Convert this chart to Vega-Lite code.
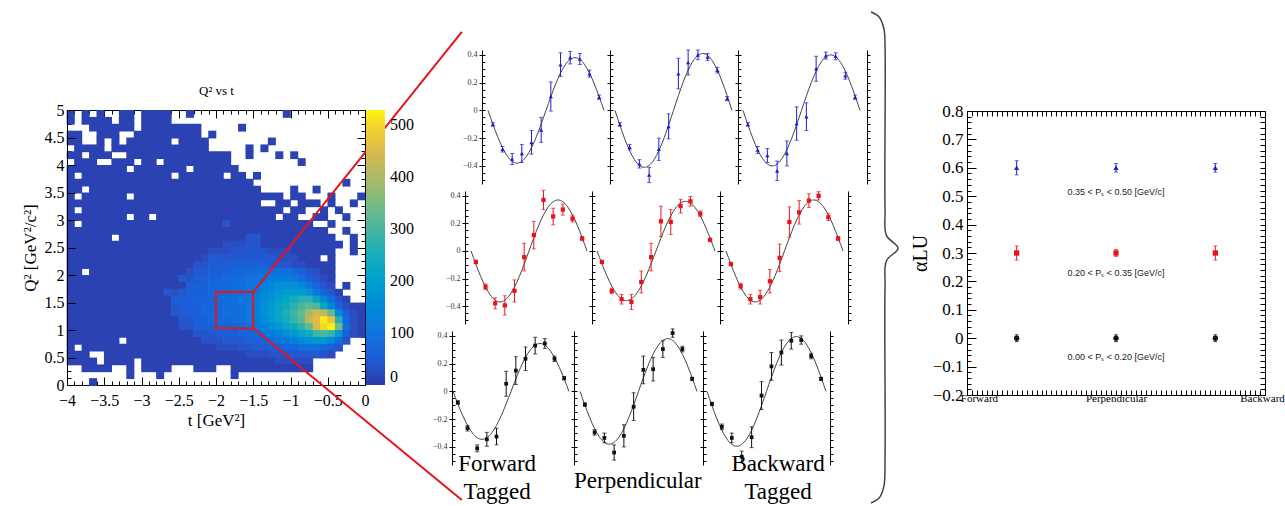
{"$schema":"https://vega.github.io/schema/vega-lite/v6.json","width":1285,"height":506,"autosize":{"type":"none"},"padding":0,"background":"white",
"config":{"view":{"stroke":null},"font":"Liberation Serif","axis":{"grid":false,"labelFont":"Liberation Serif","titleFont":"Liberation Serif","titleFontWeight":"normal","labelColor":"black","titleColor":"black","domainColor":"black","tickColor":"black","labelFlush":false,"labelOverlap":false},"legend":{"labelFont":"Liberation Serif"}},
"datasets":{
"heat":[
{"t0":-4,"t1":-3.9,"q":4.94,"n":12},{"t0":-3.8,"t1":-3.7,"q":4.94,"n":12},{"t0":-3.6,"t1":-3.5,"q":4.94,"n":12},{"t0":-3.3,"t1":-3.1,"q":4.94,"n":12},{"t0":-3,"t1":-2.6,"q":4.94,"n":12},{"t0":-2.4,"t1":-2.3,"q":4.94,"n":12},{"t0":-1.1,"t1":-1,"q":4.94,"n":12},
{"t0":-4,"t1":-3.9,"q":4.81,"n":12},{"t0":-3.8,"t1":-3.4,"q":4.81,"n":12},{"t0":-3.3,"t1":-3.1,"q":4.81,"n":12},{"t0":-3,"t1":-2.6,"q":4.81,"n":12},
{"t0":-3.7,"t1":-3.1,"q":4.69,"n":12},{"t0":-3,"t1":-2.2,"q":4.69,"n":12},{"t0":-1.7,"t1":-1.6,"q":4.69,"n":12},
{"t0":-4,"t1":-3.8,"q":4.56,"n":12},{"t0":-3.6,"t1":-3.3,"q":4.56,"n":12},{"t0":-3.1,"t1":-2.2,"q":4.56,"n":12},{"t0":-2.1,"t1":-2,"q":4.56,"n":12},
{"t0":-4,"t1":-3.8,"q":4.44,"n":12},{"t0":-3.6,"t1":-3.5,"q":4.44,"n":12},{"t0":-3.4,"t1":-3.3,"q":4.44,"n":12},{"t0":-3.2,"t1":-2.6,"q":4.44,"n":12},{"t0":-2.5,"t1":-2.1,"q":4.44,"n":12},{"t0":-1.3,"t1":-1.2,"q":4.44,"n":12},
{"t0":-3.9,"t1":-3.5,"q":4.31,"n":12},{"t0":-3.4,"t1":-2.1,"q":4.31,"n":12},{"t0":-1.6,"t1":-1.5,"q":4.31,"n":12},{"t0":-1.4,"t1":-1.3,"q":4.31,"n":12},
{"t0":-4,"t1":-3.8,"q":4.19,"n":12},{"t0":-3.7,"t1":-3.4,"q":4.19,"n":12},{"t0":-3.2,"t1":-1.8,"q":4.19,"n":12},{"t0":-1.6,"t1":-1.5,"q":4.19,"n":12},{"t0":-1.2,"t1":-1.1,"q":4.19,"n":12},{"t0":-1,"t1":-0.9,"q":4.19,"n":12},
{"t0":-3.9,"t1":-3.6,"q":4.06,"n":12},{"t0":-3.4,"t1":-3.1,"q":4.06,"n":12},{"t0":-3,"t1":-2.8,"q":4.06,"n":12},{"t0":-2.7,"t1":-1.8,"q":4.06,"n":12},{"t0":-0.9,"t1":-0.8,"q":4.06,"n":12},
{"t0":-4,"t1":-3.2,"q":3.94,"n":12},{"t0":-3.1,"t1":-2.4,"q":3.94,"n":12},{"t0":-2.3,"t1":-1.7,"q":3.94,"n":12},
{"t0":-4,"t1":-3.9,"q":3.81,"n":12},{"t0":-3.8,"t1":-2.6,"q":3.81,"n":12},{"t0":-2.5,"t1":-1.9,"q":3.81,"n":12},{"t0":-1.8,"t1":-1.6,"q":3.81,"n":12},{"t0":-1.5,"t1":-1.4,"q":3.81,"n":12},
{"t0":-4,"t1":-1.5,"q":3.69,"n":12},{"t0":-0.3,"t1":-0.2,"q":3.69,"n":12},
{"t0":-4,"t1":-3.8,"q":3.56,"n":12},{"t0":-3.7,"t1":-1.4,"q":3.56,"n":12},{"t0":-1,"t1":-0.9,"q":3.56,"n":12},{"t0":-0.7,"t1":-0.6,"q":3.56,"n":12},
{"t0":-4,"t1":-3.9,"q":3.44,"n":12},{"t0":-3.8,"t1":-3.2,"q":3.44,"n":12},{"t0":-3.1,"t1":-1.1,"q":3.44,"n":12},{"t0":-1,"t1":-0.8,"q":3.44,"n":12},{"t0":-0.5,"t1":-0.4,"q":3.44,"n":12},{"t0":-0.1,"t1":0,"q":3.44,"n":12},
{"t0":-4,"t1":-1.4,"q":3.31,"n":12},{"t0":-1.2,"t1":-1,"q":3.31,"n":12},{"t0":-0.9,"t1":-0.6,"q":3.31,"n":12},{"t0":-0.5,"t1":-0.4,"q":3.31,"n":12},{"t0":-0.2,"t1":-0.1,"q":3.31,"n":12},
{"t0":-4,"t1":-3.9,"q":3.19,"n":12},{"t0":-3.8,"t1":-1.1,"q":3.19,"n":12},{"t0":-1,"t1":-0.8,"q":3.19,"n":12},{"t0":-0.6,"t1":-0.5,"q":3.19,"n":12},{"t0":-0.4,"t1":-0.3,"q":3.19,"n":12},
{"t0":-4,"t1":-3.2,"q":3.06,"n":12},{"t0":-3.1,"t1":-2.9,"q":3.06,"n":12},{"t0":-2.8,"t1":-1.2,"q":3.06,"n":12},{"t0":-1.1,"t1":-0.9,"q":3.06,"n":12},{"t0":-0.7,"t1":-0.5,"q":3.06,"n":12},{"t0":-0.3,"t1":-0.2,"q":3.06,"n":12},
{"t0":-4,"t1":-3.9,"q":2.94,"n":12},{"t0":-3.8,"t1":-1.9,"q":2.94,"n":12},{"t0":-1.9,"t1":-1.8,"q":2.94,"n":35},{"t0":-1.8,"t1":-0.7,"q":2.94,"n":12},{"t0":-0.5,"t1":-0.4,"q":2.94,"n":12},
{"t0":-4,"t1":-0.5,"q":2.81,"n":12},{"t0":-0.3,"t1":-0.2,"q":2.81,"n":12},
{"t0":-4,"t1":-3.4,"q":2.69,"n":12},{"t0":-3.3,"t1":-1.6,"q":2.69,"n":12},{"t0":-1.6,"t1":-1.4,"q":2.69,"n":40},{"t0":-1.4,"t1":-0.4,"q":2.69,"n":12},{"t0":-0.2,"t1":-0.1,"q":2.69,"n":12},
{"t0":-4,"t1":-1.9,"q":2.56,"n":12},{"t0":-1.9,"t1":-1.6,"q":2.56,"n":30},{"t0":-1.6,"t1":-1.4,"q":2.56,"n":40},{"t0":-1.4,"t1":-0.3,"q":2.56,"n":12},{"t0":-0.2,"t1":-0.1,"q":2.56,"n":12},
{"t0":-4,"t1":-2.1,"q":2.44,"n":12},{"t0":-2.1,"t1":-1.8,"q":2.44,"n":28},{"t0":-1.8,"t1":-1.3,"q":2.44,"n":40},{"t0":-1.3,"t1":-1,"q":2.44,"n":25},{"t0":-1,"t1":-0.4,"q":2.44,"n":12},{"t0":-0.2,"t1":-0.1,"q":2.44,"n":12},
{"t0":-4,"t1":-2.2,"q":2.31,"n":12},{"t0":-2.2,"t1":-2.1,"q":2.31,"n":25},{"t0":-2.1,"t1":-1.2,"q":2.31,"n":45},{"t0":-1.2,"t1":-0.9,"q":2.31,"n":30},{"t0":-0.9,"t1":-0.6,"q":2.31,"n":12},{"t0":-0.5,"t1":-0.4,"q":2.31,"n":12},
{"t0":-4,"t1":-2.3,"q":2.19,"n":12},{"t0":-2.3,"t1":-2.1,"q":2.19,"n":35},{"t0":-2.1,"t1":-1.8,"q":2.19,"n":50},{"t0":-1.8,"t1":-1.3,"q":2.19,"n":58},{"t0":-1.3,"t1":-1,"q":2.19,"n":45},{"t0":-1,"t1":-0.8,"q":2.19,"n":28},{"t0":-0.8,"t1":-0.4,"q":2.19,"n":12},
{"t0":-4,"t1":-3.8,"q":2.06,"n":12},{"t0":-3.7,"t1":-2.4,"q":2.06,"n":12},{"t0":-2.4,"t1":-2.3,"q":2.06,"n":30},{"t0":-2.3,"t1":-2.1,"q":2.06,"n":45},{"t0":-2.1,"t1":-1.8,"q":2.06,"n":58},{"t0":-1.8,"t1":-1.5,"q":2.06,"n":72},{"t0":-1.5,"t1":-1.3,"q":2.06,"n":82},{"t0":-1.3,"t1":-1,"q":2.06,"n":92},{"t0":-1,"t1":-0.9,"q":2.06,"n":80},{"t0":-0.9,"t1":-0.8,"q":2.06,"n":60},{"t0":-0.8,"t1":-0.7,"q":2.06,"n":40},{"t0":-0.7,"t1":-0.6,"q":2.06,"n":30},{"t0":-0.6,"t1":-0.4,"q":2.06,"n":12},
{"t0":-4,"t1":-2.5,"q":1.94,"n":12},{"t0":-2.5,"t1":-2.4,"q":1.94,"n":45},{"t0":-2.4,"t1":-2.3,"q":1.94,"n":35},{"t0":-2.3,"t1":-2.1,"q":1.94,"n":52},{"t0":-2.1,"t1":-1.9,"q":1.94,"n":65},{"t0":-1.9,"t1":-1.6,"q":1.94,"n":80},{"t0":-1.6,"t1":-1.4,"q":1.94,"n":95},{"t0":-1.4,"t1":-1.2,"q":1.94,"n":115},{"t0":-1.2,"t1":-1,"q":1.94,"n":125},{"t0":-1,"t1":-0.9,"q":1.94,"n":110},{"t0":-0.9,"t1":-0.8,"q":1.94,"n":90},{"t0":-0.8,"t1":-0.7,"q":1.94,"n":60},{"t0":-0.7,"t1":-0.6,"q":1.94,"n":40},{"t0":-0.6,"t1":-0.5,"q":1.94,"n":25},{"t0":-0.5,"t1":-0.4,"q":1.94,"n":12},
{"t0":-4,"t1":-2.4,"q":1.81,"n":12},{"t0":-2.4,"t1":-2.3,"q":1.81,"n":50},{"t0":-2.3,"t1":-2.1,"q":1.81,"n":58},{"t0":-2.1,"t1":-1.8,"q":1.81,"n":75},{"t0":-1.8,"t1":-1.6,"q":1.81,"n":88},{"t0":-1.6,"t1":-1.5,"q":1.81,"n":100},{"t0":-1.5,"t1":-1.4,"q":1.81,"n":110},{"t0":-1.4,"t1":-1.3,"q":1.81,"n":125},{"t0":-1.3,"t1":-1.2,"q":1.81,"n":140},{"t0":-1.2,"t1":-1.1,"q":1.81,"n":155},{"t0":-1.1,"t1":-1,"q":1.81,"n":165},{"t0":-1,"t1":-0.9,"q":1.81,"n":160},{"t0":-0.9,"t1":-0.8,"q":1.81,"n":140},{"t0":-0.8,"t1":-0.7,"q":1.81,"n":110},{"t0":-0.7,"t1":-0.6,"q":1.81,"n":70},{"t0":-0.6,"t1":-0.5,"q":1.81,"n":40},{"t0":-0.5,"t1":-0.4,"q":1.81,"n":25},{"t0":-0.3,"t1":-0.2,"q":1.81,"n":12},
{"t0":-4,"t1":-2.7,"q":1.69,"n":12},{"t0":-2.7,"t1":-2.6,"q":1.69,"n":45},{"t0":-2.6,"t1":-2.5,"q":1.69,"n":30},{"t0":-2.5,"t1":-2.4,"q":1.69,"n":45},{"t0":-2.4,"t1":-2.1,"q":1.69,"n":60},{"t0":-2.1,"t1":-1.8,"q":1.69,"n":75},{"t0":-1.8,"t1":-1.6,"q":1.69,"n":88},{"t0":-1.6,"t1":-1.5,"q":1.69,"n":100},{"t0":-1.5,"t1":-1.4,"q":1.69,"n":120},{"t0":-1.4,"t1":-1.3,"q":1.69,"n":140},{"t0":-1.3,"t1":-1.2,"q":1.69,"n":160},{"t0":-1.2,"t1":-1.1,"q":1.69,"n":180},{"t0":-1.1,"t1":-1,"q":1.69,"n":195},{"t0":-1,"t1":-0.9,"q":1.69,"n":200},{"t0":-0.9,"t1":-0.8,"q":1.69,"n":190},{"t0":-0.8,"t1":-0.7,"q":1.69,"n":160},{"t0":-0.7,"t1":-0.6,"q":1.69,"n":110},{"t0":-0.6,"t1":-0.5,"q":1.69,"n":70},{"t0":-0.5,"t1":-0.4,"q":1.69,"n":40},{"t0":-0.4,"t1":-0.3,"q":1.69,"n":12},
{"t0":-4,"t1":-2.6,"q":1.56,"n":12},{"t0":-2.6,"t1":-2.3,"q":1.56,"n":53},{"t0":-2.3,"t1":-2,"q":1.56,"n":65},{"t0":-2,"t1":-1.7,"q":1.56,"n":85},{"t0":-1.7,"t1":-1.5,"q":1.56,"n":100},{"t0":-1.5,"t1":-1.4,"q":1.56,"n":125},{"t0":-1.4,"t1":-1.3,"q":1.56,"n":150},{"t0":-1.3,"t1":-1.2,"q":1.56,"n":175},{"t0":-1.2,"t1":-1.1,"q":1.56,"n":200},{"t0":-1.1,"t1":-1,"q":1.56,"n":225},{"t0":-1,"t1":-0.9,"q":1.56,"n":245},{"t0":-0.9,"t1":-0.8,"q":1.56,"n":265},{"t0":-0.8,"t1":-0.7,"q":1.56,"n":270},{"t0":-0.7,"t1":-0.6,"q":1.56,"n":220},{"t0":-0.6,"t1":-0.5,"q":1.56,"n":150},{"t0":-0.5,"t1":-0.4,"q":1.56,"n":80},{"t0":-0.4,"t1":-0.3,"q":1.56,"n":40},{"t0":-0.3,"t1":-0.2,"q":1.56,"n":12},
{"t0":-4,"t1":-2.6,"q":1.44,"n":12},{"t0":-2.6,"t1":-2.5,"q":1.44,"n":40},{"t0":-2.5,"t1":-2.2,"q":1.44,"n":55},{"t0":-2.2,"t1":-1.9,"q":1.44,"n":75},{"t0":-1.9,"t1":-1.6,"q":1.44,"n":88},{"t0":-1.6,"t1":-1.5,"q":1.44,"n":105},{"t0":-1.5,"t1":-1.4,"q":1.44,"n":130},{"t0":-1.4,"t1":-1.3,"q":1.44,"n":160},{"t0":-1.3,"t1":-1.2,"q":1.44,"n":190},{"t0":-1.2,"t1":-1.1,"q":1.44,"n":215},{"t0":-1.1,"t1":-1,"q":1.44,"n":240},{"t0":-1,"t1":-0.9,"q":1.44,"n":270},{"t0":-0.9,"t1":-0.8,"q":1.44,"n":300},{"t0":-0.8,"t1":-0.7,"q":1.44,"n":320},{"t0":-0.7,"t1":-0.6,"q":1.44,"n":300},{"t0":-0.6,"t1":-0.5,"q":1.44,"n":230},{"t0":-0.5,"t1":-0.4,"q":1.44,"n":130},{"t0":-0.4,"t1":-0.3,"q":1.44,"n":60},{"t0":-0.3,"t1":-0.2,"q":1.44,"n":30},{"t0":-0.2,"t1":0,"q":1.44,"n":12},
{"t0":-4,"t1":-2.6,"q":1.31,"n":12},{"t0":-2.6,"t1":-2.4,"q":1.31,"n":45},{"t0":-2.4,"t1":-2.2,"q":1.31,"n":58},{"t0":-2.2,"t1":-1.9,"q":1.31,"n":75},{"t0":-1.9,"t1":-1.6,"q":1.31,"n":88},{"t0":-1.6,"t1":-1.5,"q":1.31,"n":110},{"t0":-1.5,"t1":-1.4,"q":1.31,"n":135},{"t0":-1.4,"t1":-1.3,"q":1.31,"n":165},{"t0":-1.3,"t1":-1.2,"q":1.31,"n":195},{"t0":-1.2,"t1":-1.1,"q":1.31,"n":225},{"t0":-1.1,"t1":-1,"q":1.31,"n":255},{"t0":-1,"t1":-0.9,"q":1.31,"n":290},{"t0":-0.9,"t1":-0.8,"q":1.31,"n":330},{"t0":-0.8,"t1":-0.7,"q":1.31,"n":390},{"t0":-0.7,"t1":-0.6,"q":1.31,"n":440},{"t0":-0.6,"t1":-0.5,"q":1.31,"n":420},{"t0":-0.5,"t1":-0.4,"q":1.31,"n":330},{"t0":-0.4,"t1":-0.3,"q":1.31,"n":150},{"t0":-0.3,"t1":-0.2,"q":1.31,"n":50},{"t0":-0.2,"t1":-0.1,"q":1.31,"n":25},{"t0":-0.1,"t1":0,"q":1.31,"n":12},
{"t0":-4,"t1":-2.5,"q":1.19,"n":12},{"t0":-2.5,"t1":-2.3,"q":1.19,"n":40},{"t0":-2.3,"t1":-2.1,"q":1.19,"n":60},{"t0":-2.1,"t1":-1.8,"q":1.19,"n":75},{"t0":-1.8,"t1":-1.6,"q":1.19,"n":88},{"t0":-1.6,"t1":-1.5,"q":1.19,"n":105},{"t0":-1.5,"t1":-1.4,"q":1.19,"n":125},{"t0":-1.4,"t1":-1.3,"q":1.19,"n":155},{"t0":-1.3,"t1":-1.2,"q":1.19,"n":185},{"t0":-1.2,"t1":-1.1,"q":1.19,"n":215},{"t0":-1.1,"t1":-1,"q":1.19,"n":245},{"t0":-1,"t1":-0.9,"q":1.19,"n":280},{"t0":-0.9,"t1":-0.8,"q":1.19,"n":320},{"t0":-0.8,"t1":-0.7,"q":1.19,"n":420},{"t0":-0.7,"t1":-0.6,"q":1.19,"n":460},{"t0":-0.6,"t1":-0.5,"q":1.19,"n":520},{"t0":-0.5,"t1":-0.4,"q":1.19,"n":480},{"t0":-0.4,"t1":-0.3,"q":1.19,"n":260},{"t0":-0.3,"t1":-0.2,"q":1.19,"n":80},{"t0":-0.2,"t1":-0.1,"q":1.19,"n":30},{"t0":-0.1,"t1":0,"q":1.19,"n":12},
{"t0":-4,"t1":-2.5,"q":1.06,"n":12},{"t0":-2.5,"t1":-2.3,"q":1.06,"n":35},{"t0":-2.3,"t1":-2,"q":1.06,"n":55},{"t0":-2,"t1":-1.7,"q":1.06,"n":70},{"t0":-1.7,"t1":-1.6,"q":1.06,"n":80},{"t0":-1.6,"t1":-1.5,"q":1.06,"n":90},{"t0":-1.5,"t1":-1.4,"q":1.06,"n":105},{"t0":-1.4,"t1":-1.3,"q":1.06,"n":130},{"t0":-1.3,"t1":-1.2,"q":1.06,"n":155},{"t0":-1.2,"t1":-1.1,"q":1.06,"n":180},{"t0":-1.1,"t1":-1,"q":1.06,"n":210},{"t0":-1,"t1":-0.9,"q":1.06,"n":240},{"t0":-0.9,"t1":-0.8,"q":1.06,"n":270},{"t0":-0.8,"t1":-0.7,"q":1.06,"n":320},{"t0":-0.7,"t1":-0.6,"q":1.06,"n":450},{"t0":-0.6,"t1":-0.5,"q":1.06,"n":500},{"t0":-0.5,"t1":-0.4,"q":1.06,"n":525},{"t0":-0.4,"t1":-0.3,"q":1.06,"n":340},{"t0":-0.3,"t1":-0.2,"q":1.06,"n":90},{"t0":-0.2,"t1":-0.1,"q":1.06,"n":30},{"t0":-0.1,"t1":0,"q":1.06,"n":12},
{"t0":-4,"t1":-2.3,"q":0.94,"n":12},{"t0":-2.3,"t1":-2,"q":0.94,"n":40},{"t0":-2,"t1":-1.7,"q":0.94,"n":55},{"t0":-1.7,"t1":-1.5,"q":0.94,"n":68},{"t0":-1.5,"t1":-1.4,"q":0.94,"n":80},{"t0":-1.4,"t1":-1.3,"q":0.94,"n":95},{"t0":-1.3,"t1":-1.2,"q":0.94,"n":115},{"t0":-1.2,"t1":-1.1,"q":0.94,"n":135},{"t0":-1.1,"t1":-1,"q":0.94,"n":160},{"t0":-1,"t1":-0.9,"q":0.94,"n":185},{"t0":-0.9,"t1":-0.8,"q":0.94,"n":210},{"t0":-0.8,"t1":-0.7,"q":0.94,"n":240},{"t0":-0.7,"t1":-0.6,"q":0.94,"n":290},{"t0":-0.6,"t1":-0.5,"q":0.94,"n":310},{"t0":-0.5,"t1":-0.4,"q":0.94,"n":280},{"t0":-0.4,"t1":-0.3,"q":0.94,"n":190},{"t0":-0.3,"t1":-0.2,"q":0.94,"n":60},{"t0":-0.2,"t1":-0.1,"q":0.94,"n":25},{"t0":-0.1,"t1":0,"q":0.94,"n":12},
{"t0":-4,"t1":-3.3,"q":0.81,"n":12},{"t0":-3.2,"t1":-2.2,"q":0.81,"n":12},{"t0":-2.2,"t1":-1.9,"q":0.81,"n":35},{"t0":-1.9,"t1":-1.6,"q":0.81,"n":45},{"t0":-1.6,"t1":-1.4,"q":0.81,"n":58},{"t0":-1.4,"t1":-1.3,"q":0.81,"n":70},{"t0":-1.3,"t1":-1.2,"q":0.81,"n":85},{"t0":-1.2,"t1":-1.1,"q":0.81,"n":100},{"t0":-1.1,"t1":-1,"q":0.81,"n":115},{"t0":-1,"t1":-0.9,"q":0.81,"n":130},{"t0":-0.9,"t1":-0.8,"q":0.81,"n":150},{"t0":-0.8,"t1":-0.7,"q":0.81,"n":165},{"t0":-0.7,"t1":-0.5,"q":0.81,"n":180},{"t0":-0.5,"t1":-0.4,"q":0.81,"n":150},{"t0":-0.4,"t1":-0.3,"q":0.81,"n":90},{"t0":-0.3,"t1":-0.2,"q":0.81,"n":35},
{"t0":-4,"t1":-3.9,"q":0.69,"n":12},{"t0":-3.8,"t1":-2,"q":0.69,"n":12},{"t0":-2,"t1":-1.7,"q":0.69,"n":28},{"t0":-1.7,"t1":-1.5,"q":0.69,"n":38},{"t0":-1.5,"t1":-1.3,"q":0.69,"n":48},{"t0":-1.3,"t1":-1.1,"q":0.69,"n":58},{"t0":-1.1,"t1":-0.9,"q":0.69,"n":72},{"t0":-0.9,"t1":-0.6,"q":0.69,"n":88},{"t0":-0.6,"t1":-0.5,"q":0.69,"n":80},{"t0":-0.5,"t1":-0.4,"q":0.69,"n":60},{"t0":-0.4,"t1":-0.3,"q":0.69,"n":35},
{"t0":-4,"t1":-3.7,"q":0.56,"n":12},{"t0":-3.5,"t1":-1.6,"q":0.56,"n":12},{"t0":-1.6,"t1":-1.3,"q":0.56,"n":28},{"t0":-1.3,"t1":-1,"q":0.56,"n":38},{"t0":-1,"t1":-0.6,"q":0.56,"n":45},{"t0":-0.6,"t1":-0.5,"q":0.56,"n":35},{"t0":-0.5,"t1":-0.4,"q":0.56,"n":25},
{"t0":-4,"t1":-3.6,"q":0.44,"n":12},{"t0":-3.5,"t1":-3.1,"q":0.44,"n":12},{"t0":-3,"t1":-1.2,"q":0.44,"n":12},{"t0":-1.2,"t1":-0.7,"q":0.44,"n":27},
{"t0":-3.8,"t1":-3.4,"q":0.31,"n":12},{"t0":-3.2,"t1":-3.1,"q":0.31,"n":12},{"t0":-3,"t1":-2.6,"q":0.31,"n":12},{"t0":-2.3,"t1":-2,"q":0.31,"n":12},{"t0":-1.8,"t1":-0.7,"q":0.31,"n":12},
{"t0":-3.2,"t1":-3.1,"q":0.19,"n":12},{"t0":-2.8,"t1":-2.7,"q":0.19,"n":12},{"t0":-1.8,"t1":-1.7,"q":0.19,"n":12},
{"t0":-3.7,"t1":-3.6,"q":0.06,"n":12}],
"box":[{"t0":-2,"t1":-1.5,"q0":1.03,"q1":1.69}],
"l1":[{"t0":-1.5,"q0":1.69,"t1":1.3,"q1":6.42}],
"l2":[{"t0":-1.5,"q0":1.03,"t1":1.3,"q1":-2.09}],
"hF":[{"p":15,"v":-0.1,"e":0.012},{"p":45,"v":-0.28,"e":0.02},{"p":75,"v":-0.35,"e":0.04},{"p":105,"v":-0.31,"e":0.065},{"p":135,"v":-0.23,"e":0.085},{"p":165,"v":-0.14,"e":0.09},{"p":195,"v":0.1,"e":0.105},{"p":225,"v":0.33,"e":0.085},{"p":255,"v":0.38,"e":0.045},{"p":285,"v":0.37,"e":0.04},{"p":315,"v":0.265,"e":0.025},{"p":345,"v":0.095,"e":0.015}],
"hP":[{"p":15,"v":-0.1,"e":0.012},{"p":45,"v":-0.265,"e":0.02},{"p":75,"v":-0.385,"e":0.03},{"p":105,"v":-0.465,"e":0.055},{"p":135,"v":-0.28,"e":0.08},{"p":165,"v":-0.115,"e":0.09},{"p":195,"v":0.265,"e":0.11},{"p":225,"v":0.345,"e":0.09},{"p":255,"v":0.4,"e":0.035},{"p":285,"v":0.385,"e":0.025},{"p":315,"v":0.29,"e":0.02},{"p":345,"v":0.085,"e":0.015}],
"hB":[{"p":15,"v":-0.1,"e":0.012},{"p":45,"v":-0.285,"e":0.025},{"p":75,"v":-0.325,"e":0.05},{"p":105,"v":-0.435,"e":0.07},{"p":135,"v":-0.31,"e":0.09},{"p":165,"v":-0.095,"e":0.12},{"p":195,"v":-0.045,"e":0.1},{"p":225,"v":0.3,"e":0.09},{"p":255,"v":0.395,"e":0.025},{"p":285,"v":0.39,"e":0.025},{"p":315,"v":0.25,"e":0.025},{"p":345,"v":0.095,"e":0.015}],
"mF":[{"p":15,"v":-0.08,"e":0.012},{"p":45,"v":-0.26,"e":0.02},{"p":75,"v":-0.38,"e":0.04},{"p":105,"v":-0.395,"e":0.07},{"p":135,"v":-0.29,"e":0.08},{"p":165,"v":-0.045,"e":0.1},{"p":195,"v":0.115,"e":0.1},{"p":225,"v":0.37,"e":0.07},{"p":255,"v":0.25,"e":0.06},{"p":285,"v":0.3,"e":0.04},{"p":315,"v":0.235,"e":0.025},{"p":345,"v":0.09,"e":0.015}],
"mP":[{"p":15,"v":-0.08,"e":0.012},{"p":45,"v":-0.29,"e":0.02},{"p":75,"v":-0.35,"e":0.035},{"p":105,"v":-0.37,"e":0.055},{"p":135,"v":-0.225,"e":0.08},{"p":165,"v":-0.045,"e":0.1},{"p":195,"v":0.215,"e":0.11},{"p":225,"v":0.21,"e":0.09},{"p":255,"v":0.325,"e":0.05},{"p":285,"v":0.36,"e":0.035},{"p":315,"v":0.27,"e":0.02},{"p":345,"v":0.08,"e":0.012}],
"mB":[{"p":15,"v":-0.095,"e":0.012},{"p":45,"v":-0.255,"e":0.02},{"p":75,"v":-0.35,"e":0.035},{"p":105,"v":-0.335,"e":0.05},{"p":135,"v":-0.22,"e":0.085},{"p":165,"v":-0.05,"e":0.1},{"p":195,"v":0.21,"e":0.11},{"p":225,"v":0.28,"e":0.085},{"p":255,"v":0.365,"e":0.05},{"p":285,"v":0.4,"e":0.03},{"p":315,"v":0.245,"e":0.025},{"p":345,"v":0.09,"e":0.015}],
"lF":[{"p":15,"v":-0.08,"e":0.012},{"p":45,"v":-0.265,"e":0.02},{"p":75,"v":-0.41,"e":0.025},{"p":105,"v":-0.345,"e":0.05},{"p":135,"v":-0.325,"e":0.06},{"p":165,"v":0.055,"e":0.09},{"p":195,"v":0.15,"e":0.1},{"p":225,"v":0.235,"e":0.085},{"p":255,"v":0.33,"e":0.06},{"p":285,"v":0.345,"e":0.035},{"p":315,"v":0.235,"e":0.02},{"p":345,"v":0.095,"e":0.012}],
"lP":[{"p":15,"v":-0.095,"e":0.012},{"p":45,"v":-0.295,"e":0.02},{"p":75,"v":-0.335,"e":0.035},{"p":105,"v":-0.44,"e":0.055},{"p":135,"v":-0.32,"e":0.08},{"p":165,"v":-0.11,"e":0.1},{"p":195,"v":0.155,"e":0.1},{"p":225,"v":0.16,"e":0.085},{"p":255,"v":0.305,"e":0.06},{"p":285,"v":0.42,"e":0.03},{"p":315,"v":0.305,"e":0.02},{"p":345,"v":0.09,"e":0.012}],
"lB":[{"p":15,"v":-0.09,"e":0.012},{"p":45,"v":-0.255,"e":0.02},{"p":75,"v":-0.335,"e":0.035},{"p":105,"v":-0.47,"e":0.04},{"p":135,"v":-0.33,"e":0.075},{"p":165,"v":-0.03,"e":0.1},{"p":195,"v":0.18,"e":0.1},{"p":225,"v":0.28,"e":0.09},{"p":255,"v":0.365,"e":0.06},{"p":285,"v":0.37,"e":0.03},{"p":315,"v":0.255,"e":0.02},{"p":345,"v":0.09,"e":0.012}],
"fhF":[{"p":0,"v":0},{"p":30,"v":-0.19},{"p":60,"v":-0.329},{"p":90,"v":-0.38},{"p":120,"v":-0.329},{"p":150,"v":-0.19},{"p":180,"v":0},{"p":210,"v":0.19},{"p":240,"v":0.329},{"p":270,"v":0.38},{"p":300,"v":0.329},{"p":330,"v":0.19},{"p":360,"v":0}],
"fhP":[{"p":0,"v":0},{"p":30,"v":-0.205},{"p":60,"v":-0.355},{"p":90,"v":-0.41},{"p":120,"v":-0.355},{"p":150,"v":-0.205},{"p":180,"v":0},{"p":210,"v":0.205},{"p":240,"v":0.355},{"p":270,"v":0.41},{"p":300,"v":0.355},{"p":330,"v":0.205},{"p":360,"v":0}],
"fhB":[{"p":0,"v":0},{"p":30,"v":-0.2},{"p":60,"v":-0.346},{"p":90,"v":-0.4},{"p":120,"v":-0.346},{"p":150,"v":-0.2},{"p":180,"v":0},{"p":210,"v":0.2},{"p":240,"v":0.346},{"p":270,"v":0.4},{"p":300,"v":0.346},{"p":330,"v":0.2},{"p":360,"v":0}],
"fmF":[{"p":0,"v":0},{"p":30,"v":-0.185},{"p":60,"v":-0.32},{"p":90,"v":-0.37},{"p":120,"v":-0.32},{"p":150,"v":-0.185},{"p":180,"v":0},{"p":210,"v":0.185},{"p":240,"v":0.32},{"p":270,"v":0.37},{"p":300,"v":0.32},{"p":330,"v":0.185},{"p":360,"v":0}],
"fmP":[{"p":0,"v":0},{"p":30,"v":-0.18},{"p":60,"v":-0.312},{"p":90,"v":-0.36},{"p":120,"v":-0.312},{"p":150,"v":-0.18},{"p":180,"v":0},{"p":210,"v":0.18},{"p":240,"v":0.312},{"p":270,"v":0.36},{"p":300,"v":0.312},{"p":330,"v":0.18},{"p":360,"v":0}],
"fmB":[{"p":0,"v":0},{"p":30,"v":-0.185},{"p":60,"v":-0.32},{"p":90,"v":-0.37},{"p":120,"v":-0.32},{"p":150,"v":-0.185},{"p":180,"v":0},{"p":210,"v":0.185},{"p":240,"v":0.32},{"p":270,"v":0.37},{"p":300,"v":0.32},{"p":330,"v":0.185},{"p":360,"v":0}],
"flF":[{"p":0,"v":0},{"p":30,"v":-0.173},{"p":60,"v":-0.299},{"p":90,"v":-0.345},{"p":120,"v":-0.299},{"p":150,"v":-0.173},{"p":180,"v":0},{"p":210,"v":0.173},{"p":240,"v":0.299},{"p":270,"v":0.345},{"p":300,"v":0.299},{"p":330,"v":0.173},{"p":360,"v":0}],
"flP":[{"p":0,"v":0},{"p":30,"v":-0.19},{"p":60,"v":-0.329},{"p":90,"v":-0.38},{"p":120,"v":-0.329},{"p":150,"v":-0.19},{"p":180,"v":0},{"p":210,"v":0.19},{"p":240,"v":0.329},{"p":270,"v":0.38},{"p":300,"v":0.329},{"p":330,"v":0.19},{"p":360,"v":0}],
"flB":[{"p":0,"v":0},{"p":30,"v":-0.198},{"p":60,"v":-0.342},{"p":90,"v":-0.395},{"p":120,"v":-0.342},{"p":150,"v":-0.198},{"p":180,"v":0},{"p":210,"v":0.198},{"p":240,"v":0.342},{"p":270,"v":0.395},{"p":300,"v":0.342},{"p":330,"v":0.198},{"p":360,"v":0}],
"tF":[{"p":137,"v":-0.574,"w":["Forward","Tagged"]}],
"tP":[{"p":178,"v":-0.695,"w":["Perpendicular"]}],
"tB":[{"p":215,"v":-0.574,"w":["Backward","Tagged"]}],
"brace":[{"i":0,"x":0,"y":1},{"i":1,"x":0.3,"y":0.99},{"i":2,"x":0.48,"y":0.965},{"i":3,"x":0.52,"y":0.93},{"i":4,"x":0.52,"y":0.6},{"i":5,"x":0.57,"y":0.545},{"i":6,"x":1,"y":0.519},{"i":7,"x":0.57,"y":0.493},{"i":8,"x":0.52,"y":0.44},{"i":9,"x":0.52,"y":0.09},{"i":10,"x":0.48,"y":0.035},{"i":11,"x":0.3,"y":0.01},{"i":12,"x":0,"y":0}],
"alu":[{"o":0.5,"a":0.6,"e":0.025,"s":"hi"},{"o":1.5,"a":0.6,"e":0.015,"s":"hi"},{"o":2.5,"a":0.6,"e":0.015,"s":"hi"},{"o":0.5,"a":0.3,"e":0.025,"s":"mid"},{"o":1.5,"a":0.3,"e":0.012,"s":"mid"},{"o":2.5,"a":0.3,"e":0.025,"s":"mid"},{"o":0.5,"a":0,"e":0.012,"s":"lo"},{"o":1.5,"a":0,"e":0.012,"s":"lo"},{"o":2.5,"a":0,"e":0.012,"s":"lo"}],
"lab":[{"o":1.5,"a":0.515,"t":"0.35 < Pₛ < 0.50 [GeV/c]"},{"o":1.5,"a":0.23,"t":"0.20 < Pₛ < 0.35 [GeV/c]"},{"o":1.5,"a":-0.065,"t":"0.00 < Pₛ < 0.20 [GeV/c]"}]
},
"layer":[
{"layer":[
{"data":{"name":"heat"},"mark":{"type":"rect","strokeWidth":0,"xOffset":-0.3,"x2Offset":0.3,"yOffset":-0.45,"y2Offset":0.45},"encoding":{
"x":{"field":"t0","type":"quantitative","scale":{"domain":[-4,0],"range":[67,365]},"axis":{"orient":"bottom","offset":-121,"values":[-4,-3.5,-3,-2.5,-2,-1.5,-1,-0.5,0],"format":".1~f","tickSize":-8,"labelPadding":15,"labelFontSize":16,"title":"t [GeV²]","titleFontSize":17,"titlePadding":4}},
"x2":{"field":"t1"},
"y":{"field":"q","type":"quantitative","bin":{"step":0.125,"extent":[0,5]},"scale":{"domain":[0,5],"range":[385,110]},"axis":{"orient":"left","offset":-67,"values":[0,0.5,1,1.5,2,2.5,3,3.5,4,4.5,5],"format":".1~f","tickSize":-8,"labelPadding":11,"labelFontSize":16,"title":"Q² [GeV²/c²]","titleFontSize":17,"titlePadding":5}},
"color":{"field":"n","type":"quantitative","scale":{"domain":[0,26,53,106,159,212,265,318,371,424,477,529],"range":["#2b3ca6","#2b4cc0","#1c5ed8","#1277de","#0b8fd6","#0ea3c8","#28b0b2","#58b996","#90bc78","#c8b65a","#f0bc3c","#f9f80e"]},"legend":{"orient":"none","legendX":366,"legendY":110,"direction":"vertical","gradientLength":275,"gradientThickness":19,"title":null,"values":[0,100,200,300,400,500],"labelFontSize":16,"labelColor":"black","labelOffset":5,"padding":0,"gradientStrokeWidth":0,"labelOverlap":false}}}},
{"data":{"name":"box"},"mark":{"type":"rect","filled":false,"stroke":"#e8141c","strokeWidth":2},"encoding":{
"x":{"field":"t0","type":"quantitative","scale":{"domain":[-4,0],"range":[67,365]},"axis":{"orient":"bottom","offset":-121,"tickCount":40,"tickSize":-4,"labels":false,"domain":false,"title":null}},"x2":{"field":"t1"},
"y":{"field":"q0","type":"quantitative","scale":{"domain":[0,5],"range":[385,110]},"axis":{"orient":"left","offset":-67,"tickCount":50,"tickSize":-4,"labels":false,"domain":false,"title":null}},"y2":{"field":"q1"}}},
{"data":{"name":"l1"},"mark":{"type":"rule","color":"#e8141c","strokeWidth":2},"encoding":{
"x":{"field":"t0","type":"quantitative","scale":{"domain":[-4,0],"range":[67,365]},"axis":{"orient":"top","offset":-110,"values":[-4,-3.5,-3,-2.5,-2,-1.5,-1,-0.5,0],"tickSize":-8,"labels":false,"title":"Q² vs t","titleFontSize":13,"titlePadding":12}},"x2":{"field":"t1"},
"y":{"field":"q0","type":"quantitative","scale":{"domain":[0,5],"range":[385,110]},"axis":{"orient":"right","offset":-920,"values":[0,0.5,1,1.5,2,2.5,3,3.5,4,4.5,5],"tickSize":-8,"labels":false,"title":null}},"y2":{"field":"q1"}}},
{"data":{"name":"l2"},"mark":{"type":"rule","color":"#e8141c","strokeWidth":2},"encoding":{
"x":{"field":"t0","type":"quantitative","scale":{"domain":[-4,0],"range":[67,365]},"axis":{"orient":"top","offset":-110,"tickCount":40,"tickSize":-4,"labels":false,"domain":false,"title":null}},"x2":{"field":"t1"},
"y":{"field":"q0","type":"quantitative","scale":{"domain":[0,5],"range":[385,110]},"axis":{"orient":"right","offset":-920,"tickCount":50,"tickSize":-4,"labels":false,"domain":false,"title":null}},"y2":{"field":"q1"}}}
],"resolve":{"axis":{"x":"independent","y":"independent"}}},

{"layer":[
{"data":{"name":"fhF"},"mark":{"type":"line","interpolate":"natural","color":"#444","strokeWidth":1},"encoding":{"x":{"field":"p","type":"quantitative","scale":{"domain":[0,360],"range":[488,604]},"axis":null},"y":{"field":"v","type":"quantitative","scale":{"domain":[-0.53,0.435],"range":[184,50]},"axis":{"orient":"left","offset":-482,"values":[-0.4,-0.2,0,0.2,0.4],"format":".1~f","tickSize":3,"labelFontSize":8,"labelPadding":2,"labelColor":"#333","title":null}}}},
{"data":{"name":"hF"},"mark":{"type":"errorbar","ticks":{"size":4},"color":"#2020cc"},"encoding":{"x":{"field":"p","type":"quantitative","scale":{"domain":[0,360],"range":[488,604]},"axis":null},"y":{"field":"v","type":"quantitative","scale":{"domain":[-0.53,0.435],"range":[184,50]},"axis":{"orient":"left","offset":-482,"tickCount":25,"tickSize":-3,"labels":false,"domain":false,"title":null}},"yError":{"field":"e"}}},
{"data":{"name":"hF"},"mark":{"type":"point","shape":"triangle-up","filled":true,"size":18,"color":"#2020cc","opacity":1},"encoding":{"x":{"field":"p","type":"quantitative","scale":{"domain":[0,360],"range":[488,604]},"axis":null},"y":{"field":"v","type":"quantitative","scale":{"domain":[-0.53,0.435],"range":[184,50]},"axis":null}}}
],"resolve":{"axis":{"y":"independent"}}},

{"layer":[
{"data":{"name":"fhP"},"mark":{"type":"line","interpolate":"natural","color":"#444","strokeWidth":1},"encoding":{"x":{"field":"p","type":"quantitative","scale":{"domain":[0,360],"range":[615,732]},"axis":null},"y":{"field":"v","type":"quantitative","scale":{"domain":[-0.53,0.435],"range":[184,50]},"axis":{"orient":"left","offset":-610,"values":[-0.4,-0.2,0,0.2,0.4],"tickSize":3,"labels":false,"title":null}}}},
{"data":{"name":"hP"},"mark":{"type":"errorbar","ticks":{"size":4},"color":"#2020cc"},"encoding":{"x":{"field":"p","type":"quantitative","scale":{"domain":[0,360],"range":[615,732]},"axis":null},"y":{"field":"v","type":"quantitative","scale":{"domain":[-0.53,0.435],"range":[184,50]},"axis":{"orient":"left","offset":-610,"tickCount":25,"tickSize":-3,"labels":false,"domain":false,"title":null}},"yError":{"field":"e"}}},
{"data":{"name":"hP"},"mark":{"type":"point","shape":"triangle-up","filled":true,"size":18,"color":"#2020cc","opacity":1},"encoding":{"x":{"field":"p","type":"quantitative","scale":{"domain":[0,360],"range":[615,732]},"axis":null},"y":{"field":"v","type":"quantitative","scale":{"domain":[-0.53,0.435],"range":[184,50]},"axis":null}}}
],"resolve":{"axis":{"y":"independent"}}},

{"layer":[
{"data":{"name":"fhB"},"mark":{"type":"line","interpolate":"natural","color":"#444","strokeWidth":1},"encoding":{"x":{"field":"p","type":"quantitative","scale":{"domain":[0,360],"range":[743,860]},"axis":null},"y":{"field":"v","type":"quantitative","scale":{"domain":[-0.53,0.435],"range":[184,50]},"axis":{"orient":"left","offset":-738,"values":[-0.4,-0.2,0,0.2,0.4],"tickSize":3,"labels":false,"title":null}}}},
{"data":{"name":"hB"},"mark":{"type":"errorbar","ticks":{"size":4},"color":"#2020cc"},"encoding":{"x":{"field":"p","type":"quantitative","scale":{"domain":[0,360],"range":[743,860]},"axis":null},"y":{"field":"v","type":"quantitative","scale":{"domain":[-0.53,0.435],"range":[184,50]},"axis":{"orient":"left","offset":-738,"tickCount":25,"tickSize":-3,"labels":false,"domain":false,"title":null}},"yError":{"field":"e"}}},
{"data":{"name":"hB"},"mark":{"type":"point","shape":"triangle-up","filled":true,"size":18,"color":"#2020cc","opacity":1},"encoding":{"x":{"field":"p","type":"quantitative","scale":{"domain":[0,360],"range":[743,860]},"axis":null},"y":{"field":"v","type":"quantitative","scale":{"domain":[-0.53,0.435],"range":[184,50]},"axis":{"orient":"right","offset":-418,"tickCount":25,"tickSize":3,"labels":false,"title":null}}}}
],"resolve":{"axis":{"y":"independent"}}},

{"layer":[
{"data":{"name":"fmF"},"mark":{"type":"line","interpolate":"natural","color":"#444","strokeWidth":1},"encoding":{"x":{"field":"p","type":"quantitative","scale":{"domain":[0,360],"range":[471,587]},"axis":null},"y":{"field":"v","type":"quantitative","scale":{"domain":[-0.53,0.435],"range":[324,191]},"axis":{"orient":"left","offset":-465,"values":[-0.4,-0.2,0,0.2,0.4],"format":".1~f","tickSize":3,"labelFontSize":8,"labelPadding":2,"labelColor":"#333","title":null}}}},
{"data":{"name":"mF"},"mark":{"type":"errorbar","ticks":{"size":4},"color":"#e8141c"},"encoding":{"x":{"field":"p","type":"quantitative","scale":{"domain":[0,360],"range":[471,587]},"axis":null},"y":{"field":"v","type":"quantitative","scale":{"domain":[-0.53,0.435],"range":[324,191]},"axis":{"orient":"left","offset":-465,"tickCount":25,"tickSize":-3,"labels":false,"domain":false,"title":null}},"yError":{"field":"e"}}},
{"data":{"name":"mF"},"mark":{"type":"point","shape":"square","filled":true,"size":18,"color":"#e8141c","opacity":1},"encoding":{"x":{"field":"p","type":"quantitative","scale":{"domain":[0,360],"range":[471,587]},"axis":null},"y":{"field":"v","type":"quantitative","scale":{"domain":[-0.53,0.435],"range":[324,191]},"axis":null}}}
],"resolve":{"axis":{"y":"independent"}}},

{"layer":[
{"data":{"name":"fmP"},"mark":{"type":"line","interpolate":"natural","color":"#444","strokeWidth":1},"encoding":{"x":{"field":"p","type":"quantitative","scale":{"domain":[0,360],"range":[597,715]},"axis":null},"y":{"field":"v","type":"quantitative","scale":{"domain":[-0.53,0.435],"range":[324,191]},"axis":{"orient":"left","offset":-592,"values":[-0.4,-0.2,0,0.2,0.4],"tickSize":3,"labels":false,"title":null}}}},
{"data":{"name":"mP"},"mark":{"type":"errorbar","ticks":{"size":4},"color":"#e8141c"},"encoding":{"x":{"field":"p","type":"quantitative","scale":{"domain":[0,360],"range":[597,715]},"axis":null},"y":{"field":"v","type":"quantitative","scale":{"domain":[-0.53,0.435],"range":[324,191]},"axis":{"orient":"left","offset":-592,"tickCount":25,"tickSize":-3,"labels":false,"domain":false,"title":null}},"yError":{"field":"e"}}},
{"data":{"name":"mP"},"mark":{"type":"point","shape":"square","filled":true,"size":18,"color":"#e8141c","opacity":1},"encoding":{"x":{"field":"p","type":"quantitative","scale":{"domain":[0,360],"range":[597,715]},"axis":null},"y":{"field":"v","type":"quantitative","scale":{"domain":[-0.53,0.435],"range":[324,191]},"axis":null}}}
],"resolve":{"axis":{"y":"independent"}}},

{"layer":[
{"data":{"name":"fmB"},"mark":{"type":"line","interpolate":"natural","color":"#444","strokeWidth":1},"encoding":{"x":{"field":"p","type":"quantitative","scale":{"domain":[0,360],"range":[726,843]},"axis":null},"y":{"field":"v","type":"quantitative","scale":{"domain":[-0.53,0.435],"range":[324,191]},"axis":{"orient":"left","offset":-720,"values":[-0.4,-0.2,0,0.2,0.4],"tickSize":3,"labels":false,"title":null}}}},
{"data":{"name":"mB"},"mark":{"type":"errorbar","ticks":{"size":4},"color":"#e8141c"},"encoding":{"x":{"field":"p","type":"quantitative","scale":{"domain":[0,360],"range":[726,843]},"axis":null},"y":{"field":"v","type":"quantitative","scale":{"domain":[-0.53,0.435],"range":[324,191]},"axis":{"orient":"left","offset":-720,"tickCount":25,"tickSize":-3,"labels":false,"domain":false,"title":null}},"yError":{"field":"e"}}},
{"data":{"name":"mB"},"mark":{"type":"point","shape":"square","filled":true,"size":18,"color":"#e8141c","opacity":1},"encoding":{"x":{"field":"p","type":"quantitative","scale":{"domain":[0,360],"range":[726,843]},"axis":null},"y":{"field":"v","type":"quantitative","scale":{"domain":[-0.53,0.435],"range":[324,191]},"axis":{"orient":"right","offset":-437,"tickCount":25,"tickSize":3,"labels":false,"title":null}}}}
],"resolve":{"axis":{"y":"independent"}}},

{"layer":[
{"data":{"name":"flF"},"mark":{"type":"line","interpolate":"natural","color":"#444","strokeWidth":1},"encoding":{"x":{"field":"p","type":"quantitative","scale":{"domain":[0,360],"range":[453,569]},"axis":null},"y":{"field":"v","type":"quantitative","scale":{"domain":[-0.53,0.435],"range":[465,331]},"axis":{"orient":"left","offset":-452,"values":[-0.4,-0.2,0,0.2,0.4],"format":".1~f","tickSize":3,"labelFontSize":8,"labelPadding":2,"labelColor":"#333","title":null}}}},
{"data":{"name":"lF"},"mark":{"type":"errorbar","ticks":{"size":4},"color":"#111"},"encoding":{"x":{"field":"p","type":"quantitative","scale":{"domain":[0,360],"range":[453,569]},"axis":null},"y":{"field":"v","type":"quantitative","scale":{"domain":[-0.53,0.435],"range":[465,331]},"axis":{"orient":"left","offset":-452,"tickCount":25,"tickSize":-3,"labels":false,"domain":false,"title":null}},"yError":{"field":"e"}}},
{"data":{"name":"lF"},"mark":{"type":"point","shape":"square","filled":true,"size":14,"color":"#111","opacity":1},"encoding":{"x":{"field":"p","type":"quantitative","scale":{"domain":[0,360],"range":[453,569]},"axis":null},"y":{"field":"v","type":"quantitative","scale":{"domain":[-0.53,0.435],"range":[465,331]},"axis":null}}},
{"data":{"name":"tF"},"mark":{"type":"text","font":"Liberation Serif","fontSize":23,"color":"black","align":"center","baseline":"alphabetic","lineHeight":28},"encoding":{"x":{"field":"p","type":"quantitative","scale":{"domain":[0,360],"range":[453,569]},"axis":null},"y":{"field":"v","type":"quantitative","scale":{"domain":[-0.53,0.435],"range":[465,331]},"axis":null},"text":{"field":"w"}}}
],"resolve":{"axis":{"y":"independent"}}},

{"layer":[
{"data":{"name":"flP"},"mark":{"type":"line","interpolate":"natural","color":"#444","strokeWidth":1},"encoding":{"x":{"field":"p","type":"quantitative","scale":{"domain":[0,360],"range":[580,697]},"axis":null},"y":{"field":"v","type":"quantitative","scale":{"domain":[-0.53,0.435],"range":[465,331]},"axis":{"orient":"left","offset":-574,"values":[-0.4,-0.2,0,0.2,0.4],"tickSize":3,"labels":false,"title":null}}}},
{"data":{"name":"lP"},"mark":{"type":"errorbar","ticks":{"size":4},"color":"#111"},"encoding":{"x":{"field":"p","type":"quantitative","scale":{"domain":[0,360],"range":[580,697]},"axis":null},"y":{"field":"v","type":"quantitative","scale":{"domain":[-0.53,0.435],"range":[465,331]},"axis":{"orient":"left","offset":-574,"tickCount":25,"tickSize":-3,"labels":false,"domain":false,"title":null}},"yError":{"field":"e"}}},
{"data":{"name":"lP"},"mark":{"type":"point","shape":"square","filled":true,"size":14,"color":"#111","opacity":1},"encoding":{"x":{"field":"p","type":"quantitative","scale":{"domain":[0,360],"range":[580,697]},"axis":null},"y":{"field":"v","type":"quantitative","scale":{"domain":[-0.53,0.435],"range":[465,331]},"axis":null}}},
{"data":{"name":"tP"},"mark":{"type":"text","font":"Liberation Serif","fontSize":23,"color":"black","align":"center","baseline":"alphabetic","lineHeight":28},"encoding":{"x":{"field":"p","type":"quantitative","scale":{"domain":[0,360],"range":[580,697]},"axis":null},"y":{"field":"v","type":"quantitative","scale":{"domain":[-0.53,0.435],"range":[465,331]},"axis":null},"text":{"field":"w"}}}
],"resolve":{"axis":{"y":"independent"}}},

{"layer":[
{"data":{"name":"flB"},"mark":{"type":"line","interpolate":"natural","color":"#444","strokeWidth":1},"encoding":{"x":{"field":"p","type":"quantitative","scale":{"domain":[0,360],"range":[707,826]},"axis":null},"y":{"field":"v","type":"quantitative","scale":{"domain":[-0.53,0.435],"range":[465,331]},"axis":{"orient":"left","offset":-703,"values":[-0.4,-0.2,0,0.2,0.4],"tickSize":3,"labels":false,"title":null}}}},
{"data":{"name":"lB"},"mark":{"type":"errorbar","ticks":{"size":4},"color":"#111"},"encoding":{"x":{"field":"p","type":"quantitative","scale":{"domain":[0,360],"range":[707,826]},"axis":null},"y":{"field":"v","type":"quantitative","scale":{"domain":[-0.53,0.435],"range":[465,331]},"axis":{"orient":"left","offset":-703,"tickCount":25,"tickSize":-3,"labels":false,"domain":false,"title":null}},"yError":{"field":"e"}}},
{"data":{"name":"lB"},"mark":{"type":"point","shape":"square","filled":true,"size":14,"color":"#111","opacity":1},"encoding":{"x":{"field":"p","type":"quantitative","scale":{"domain":[0,360],"range":[707,826]},"axis":null},"y":{"field":"v","type":"quantitative","scale":{"domain":[-0.53,0.435],"range":[465,331]},"axis":{"orient":"right","offset":-455,"tickCount":25,"tickSize":3,"labels":false,"title":null}}}},
{"data":{"name":"tB"},"mark":{"type":"text","font":"Liberation Serif","fontSize":23,"color":"black","align":"center","baseline":"alphabetic","lineHeight":28},"encoding":{"x":{"field":"p","type":"quantitative","scale":{"domain":[0,360],"range":[707,826]},"axis":null},"y":{"field":"v","type":"quantitative","scale":{"domain":[-0.53,0.435],"range":[465,331]},"axis":null},"text":{"field":"w"}}}
],"resolve":{"axis":{"y":"independent"}}},

{"data":{"name":"brace"},"mark":{"type":"line","interpolate":"catmull-rom","color":"#444","strokeWidth":1.5},"encoding":{"x":{"field":"x","type":"quantitative","scale":{"domain":[0,1],"range":[871,898]},"axis":null},"y":{"field":"y","type":"quantitative","scale":{"domain":[0,1],"range":[503,12]},"axis":null},"order":{"field":"i","type":"quantitative"}}},

{"layer":[
{"data":{"name":"alu"},"mark":{"type":"point","filled":true,"size":28,"opacity":1},"encoding":{
"x":{"field":"o","type":"quantitative","scale":{"domain":[0,3],"range":[967,1265]},"axis":{"orient":"bottom","offset":-111,"values":[0.12,1.5,2.97],"labelExpr":"datum.value < 1 ? 'Forward' : datum.value < 2 ? 'Perpendicular' : 'Backward'","ticks":false,"labelFontSize":11,"labelPadding":-3,"labelAlign":"center","labelFlush":false,"title":null}},
"y":{"field":"a","type":"quantitative","scale":{"domain":[-0.2,0.8],"range":[395,111]},"axis":{"orient":"left","offset":-967,"values":[-0.2,-0.1,0,0.1,0.2,0.3,0.4,0.5,0.6,0.7,0.8],"format":".1~f","tickSize":-9,"labelPadding":13,"labelFontSize":17,"title":"αLU","titleFontSize":20,"titlePadding":2}},
"color":{"field":"s","type":"nominal","scale":{"domain":["hi","mid","lo"],"range":["#2020cc","#e8141c","#111111"]},"legend":null},
"shape":{"field":"s","type":"nominal","scale":{"domain":["hi","mid","lo"],"range":["triangle-up","square","circle"]},"legend":null}}},
{"data":{"name":"alu"},"mark":{"type":"errorbar","ticks":{"size":4}},"encoding":{
"x":{"field":"o","type":"quantitative","scale":{"domain":[0,3],"range":[967,1265]},"axis":{"orient":"top","offset":-111,"tickCount":60,"tickSize":-5,"labels":false,"title":null}},
"y":{"field":"a","type":"quantitative","scale":{"domain":[-0.2,0.8],"range":[395,111]},"axis":{"orient":"right","offset":-20,"tickCount":50,"tickSize":-5,"labels":false,"title":null}},
"yError":{"field":"e"},
"color":{"field":"s","type":"nominal","scale":{"domain":["hi","mid","lo"],"range":["#2020cc","#e8141c","#111111"]},"legend":null}}},
{"data":{"name":"lab"},"mark":{"type":"text","font":"Liberation Sans","fontSize":9,"color":"#222"},"encoding":{
"x":{"field":"o","type":"quantitative","scale":{"domain":[0,3],"range":[967,1265]},"axis":{"orient":"bottom","offset":-111,"tickCount":60,"tickSize":-5,"labels":false,"domain":false,"title":null}},
"y":{"field":"a","type":"quantitative","scale":{"domain":[-0.2,0.8],"range":[395,111]},"axis":{"orient":"left","offset":-967,"tickCount":50,"tickSize":-4,"labels":false,"domain":false,"title":null}},
"text":{"field":"t"}}}
],"resolve":{"axis":{"x":"independent","y":"independent"}}}
],
"resolve":{"scale":{"x":"independent","y":"independent","color":"independent","shape":"independent"}}
}
